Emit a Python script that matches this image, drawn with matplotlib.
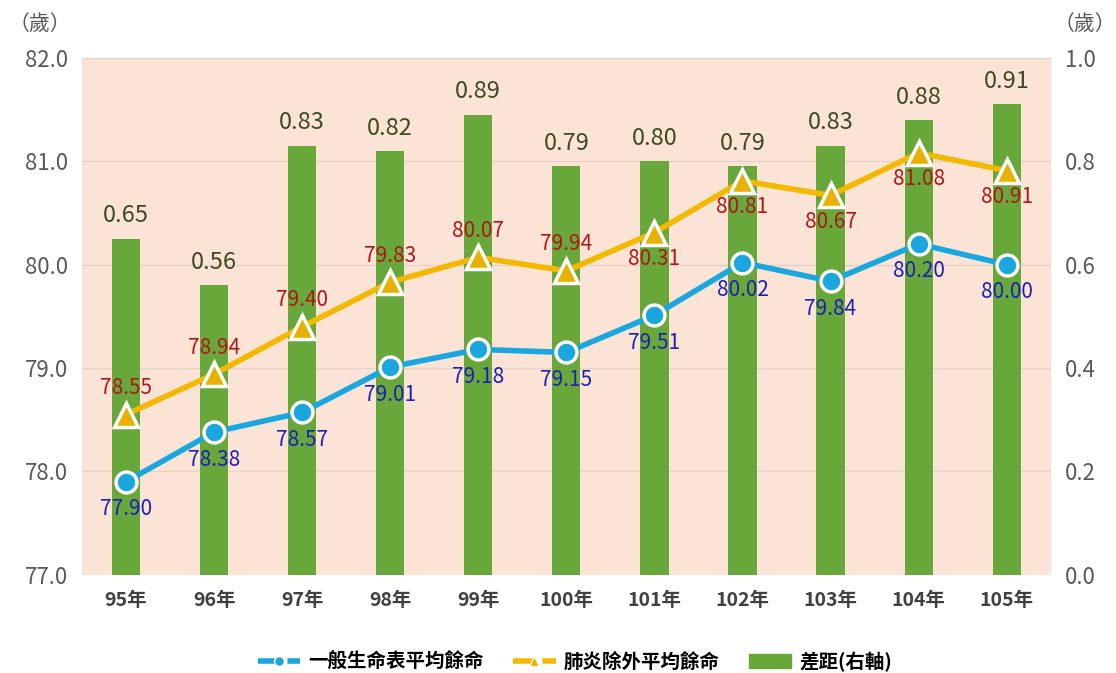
import matplotlib.pyplot as plt
import numpy as np

plt.rcParams['font.family'] = ['Noto Sans CJK TC', 'DejaVu Sans']

anos = ['95年', '96年', '97年', '98年', '99年', '100年', '101年', '102年', '103年', '104年', '105年']
geral = [77.90, 78.38, 78.57, 79.01, 79.18, 79.15, 79.51, 80.02, 79.84, 80.20, 80.00]
pneumonia = [78.55, 78.94, 79.40, 79.83, 80.07, 79.94, 80.31, 80.81, 80.67, 81.08, 80.91]
diferenca = [0.65, 0.56, 0.83, 0.82, 0.89, 0.79, 0.80, 0.79, 0.83, 0.88, 0.91]
# posição do rótulo da linha amarela: acima (1) ou abaixo (-1)
pos_amarela = [1, 1, 1, 1, 1, 1, -1, -1, -1, -1, -1]

x = np.arange(len(anos))

fig = plt.figure(figsize=(11.16, 6.73), dpi=100)
ax = fig.add_axes([0.0735, 0.146, 0.868, 0.768])
ax2 = ax.twinx()

# barras no eixo da direita
ax.set_zorder(1)
ax.patch.set_visible(False)
ax2.patch.set_visible(True)
ax2.set_facecolor('#fbe4d6')
ax2.bar(x, diferenca, width=0.32, color='#68a83a', zorder=2)
for xi, v in zip(x, diferenca):
    ax2.text(xi, v + 0.022, f'{v:.2f}', ha='center', va='bottom', fontsize=17, color='#3d4a1e')
ax2.set_ylim(0, 1.0)
ax2.set_yticks(np.arange(0, 1.01, 0.2))
ax2.set_yticklabels([f'{t:.1f}' for t in np.arange(0, 1.01, 0.2)])

# linhas no eixo da esquerda
ax.plot(x, geral, color='#1aa7e0', lw=4, marker='o', ms=15, mfc='#1aa7e0', mec='white', mew=2.5, zorder=4)
ax.plot(x, pneumonia, color='#f5b800', lw=4, marker='^', ms=17, mfc='#e8b000', mec='white', mew=2.5, zorder=4)
for xi, v in zip(x, geral):
    ax.text(xi, v - 0.16, f'{v:.2f}', ha='center', va='top', fontsize=15, color='#1f1fb4', zorder=5)
for xi, v, p in zip(x, pneumonia, pos_amarela):
    if p > 0:
        ax.text(xi, v + 0.15, f'{v:.2f}', ha='center', va='bottom', fontsize=15, color='#b01818', zorder=5)
    else:
        ax.text(xi, v - 0.15, f'{v:.2f}', ha='center', va='top', fontsize=15, color='#b01818', zorder=5)

ax.set_ylim(77, 82)
ax.set_xlim(-0.5, len(anos) - 0.5)
ax.set_yticks(np.arange(77, 82.1, 1))
ax.set_yticklabels([f'{t:.1f}' for t in np.arange(77, 82.1, 1)])
ax.set_xticks(x)
ax.set_xticklabels(anos, fontweight='bold')
for t in np.arange(78, 82.1, 1):
    ax2.axhline((t - 77) / 5, color='#e6d2c6', lw=1, zorder=1)

for a in (ax, ax2):
    a.tick_params(length=0, labelsize=16, labelcolor='#595959')
    for s in a.spines.values():
        s.set_visible(False)
ax.tick_params(axis='x', pad=12, labelsize=14, labelcolor='#404040')
ax.tick_params(axis='y', pad=10)
ax2.tick_params(axis='y', pad=10)

fig.text(0.036, 0.965, '（歲）', fontsize=15, color='#595959', ha='center', va='center')
fig.text(0.972, 0.965, '（歲）', fontsize=15, color='#595959', ha='center', va='center')

# legenda
from matplotlib.lines import Line2D
from matplotlib.patches import Patch
h1 = Line2D([], [], color='#1aa7e0', lw=4, ls='--', marker='o', ms=7, mfc='#1aa7e0', mec='white')
h2 = Line2D([], [], color='#f5b800', lw=4, ls='--', marker='^', ms=7, mfc='#e8b000', mec='white')
h3 = Patch(color='#68a83a')
fig.legend([h1, h2, h3], ['一般生命表平均餘命', '肺炎除外平均餘命', '差距(右軸)'],
           loc='center', bbox_to_anchor=(0.515, 0.017), ncol=3, frameon=False,
           prop={'size': 14, 'weight': 'bold'}, handlelength=2.2, columnspacing=1.5, handletextpad=0.4)

fig.savefig('out.png', dpi=100)
